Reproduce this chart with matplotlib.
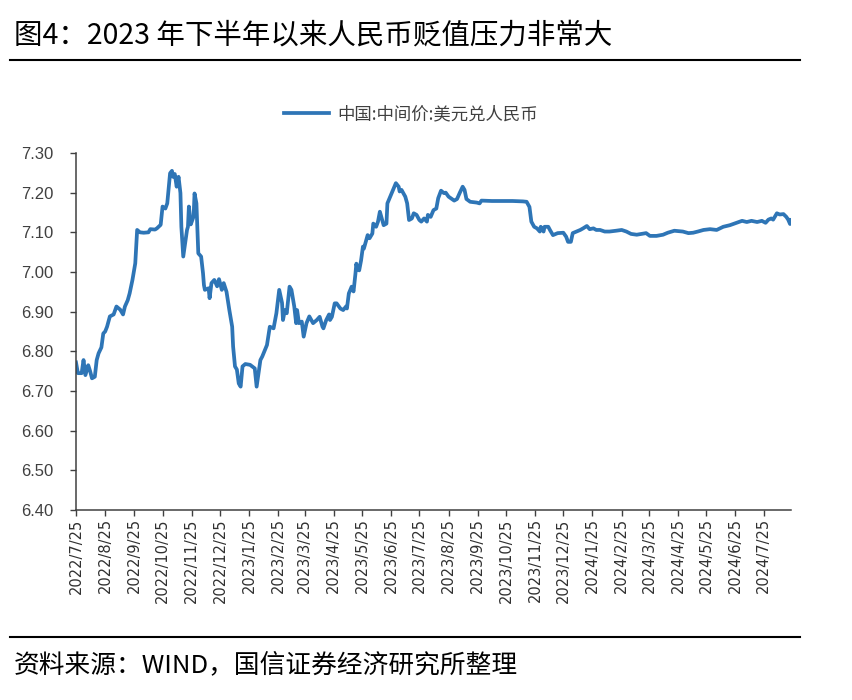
import matplotlib
matplotlib.use("Agg")
import matplotlib.pyplot as plt
from matplotlib.lines import Line2D
import pandas as pd

# ---- data ----
dates = [
    "2022-07-25", "2022-07-27", "2022-07-31", "2022-08-02", "2022-08-04", "2022-08-07",
    "2022-08-09", "2022-08-11", "2022-08-14", "2022-08-16", "2022-08-18", "2022-08-21",
    "2022-08-23", "2022-08-25", "2022-08-27", "2022-08-30", "2022-09-03", "2022-09-06",
    "2022-09-10", "2022-09-13", "2022-09-15", "2022-09-18", "2022-09-20", "2022-09-23",
    "2022-09-26", "2022-09-28", "2022-10-01", "2022-10-05", "2022-10-10", "2022-10-12",
    "2022-10-17", "2022-10-19", "2022-10-23", "2022-10-25", "2022-10-28", "2022-10-30",
    "2022-11-02", "2022-11-04", "2022-11-05", "2022-11-07", "2022-11-09", "2022-11-11",
    "2022-11-13", "2022-11-14", "2022-11-16", "2022-11-18", "2022-11-20", "2022-11-21",
    "2022-11-22", "2022-11-24", "2022-11-27", "2022-11-28", "2022-11-30", "2022-12-02",
    "2022-12-05", "2022-12-07", "2022-12-08", "2022-12-09", "2022-12-13", "2022-12-14",
    "2022-12-16", "2022-12-19", "2022-12-22", "2022-12-24", "2022-12-27", "2022-12-29",
    "2023-01-01", "2023-01-04", "2023-01-07", "2023-01-08", "2023-01-10", "2023-01-12",
    "2023-01-14", "2023-01-16", "2023-01-18", "2023-01-21", "2023-01-26", "2023-01-31",
    "2023-02-02", "2023-02-04", "2023-02-06", "2023-02-08", "2023-02-11", "2023-02-13",
    "2023-02-16", "2023-02-20", "2023-02-23", "2023-02-26", "2023-03-01", "2023-03-02",
    "2023-03-04", "2023-03-06", "2023-03-09", "2023-03-11", "2023-03-14", "2023-03-16",
    "2023-03-17", "2023-03-19", "2023-03-22", "2023-03-24", "2023-03-27", "2023-03-30",
    "2023-04-03", "2023-04-07", "2023-04-10", "2023-04-13", "2023-04-14", "2023-04-17",
    "2023-04-20", "2023-04-21", "2023-04-23", "2023-04-26", "2023-04-28", "2023-05-02",
    "2023-05-05", "2023-05-08", "2023-05-09", "2023-05-11", "2023-05-14", "2023-05-16",
    "2023-05-18", "2023-05-19", "2023-05-20", "2023-05-22", "2023-05-24", "2023-05-26",
    "2023-05-27", "2023-05-29", "2023-05-31", "2023-06-02", "2023-06-05", "2023-06-06",
    "2023-06-09", "2023-06-11", "2023-06-13", "2023-06-15", "2023-06-17", "2023-06-20",
    "2023-06-21", "2023-06-24", "2023-06-27", "2023-06-30", "2023-07-03", "2023-07-04",
    "2023-07-06", "2023-07-10", "2023-07-12", "2023-07-14", "2023-07-17", "2023-07-19",
    "2023-07-22", "2023-07-25", "2023-07-27", "2023-07-30", "2023-08-02", "2023-08-03",
    "2023-08-06", "2023-08-09", "2023-08-12", "2023-08-14", "2023-08-17", "2023-08-20",
    "2023-08-22", "2023-08-25", "2023-08-28", "2023-08-31", "2023-09-03", "2023-09-06",
    "2023-09-09", "2023-09-11", "2023-09-13", "2023-09-17", "2023-09-24", "2023-09-27",
    "2023-09-29", "2023-10-10", "2023-10-22", "2023-11-01", "2023-11-12", "2023-11-16",
    "2023-11-19", "2023-11-21", "2023-11-24", "2023-11-27", "2023-11-30", "2023-12-01",
    "2023-12-04", "2023-12-05", "2023-12-09", "2023-12-11", "2023-12-14", "2023-12-19",
    "2023-12-25", "2023-12-28", "2023-12-30", "2024-01-02", "2024-01-04", "2024-01-08",
    "2024-01-12", "2024-01-15", "2024-01-19", "2024-01-22", "2024-01-26", "2024-01-29",
    "2024-02-02", "2024-02-07", "2024-02-12", "2024-02-19", "2024-02-25", "2024-03-01",
    "2024-03-06", "2024-03-12", "2024-03-17", "2024-03-22", "2024-03-26", "2024-04-02",
    "2024-04-09", "2024-04-14", "2024-04-21", "2024-04-30", "2024-05-06", "2024-05-11",
    "2024-05-16", "2024-05-22", "2024-05-29", "2024-06-05", "2024-06-12", "2024-06-19",
    "2024-06-26", "2024-07-02", "2024-07-07", "2024-07-12", "2024-07-18", "2024-07-23",
    "2024-07-27", "2024-07-30", "2024-08-02", "2024-08-04", "2024-08-08", "2024-08-11",
    "2024-08-15", "2024-08-18", "2024-08-20", "2024-08-22", "2024-08-23",
]
usdcny_mid = [
    6.772, 6.745, 6.745, 6.778, 6.740, 6.765,
    6.750, 6.732, 6.736, 6.778, 6.795, 6.810,
    6.845, 6.850, 6.862, 6.888, 6.893, 6.913,
    6.905, 6.893, 6.913, 6.929, 6.946, 6.980,
    7.022, 7.106, 7.100, 7.099, 7.100, 7.108,
    7.107, 7.110, 7.119, 7.165, 7.160, 7.173,
    7.249, 7.255, 7.240, 7.247, 7.215, 7.240,
    7.199, 7.114, 7.039, 7.072, 7.106, 7.114,
    7.165, 7.120, 7.140, 7.198, 7.173, 7.047,
    7.039, 6.997, 6.967, 6.955, 6.959, 6.934,
    6.972, 6.980, 6.964, 6.982, 6.955, 6.972,
    6.950, 6.904, 6.862, 6.812, 6.762, 6.754,
    6.719, 6.711, 6.762, 6.768, 6.766, 6.757,
    6.711, 6.745, 6.778, 6.787, 6.804, 6.816,
    6.862, 6.858, 6.896, 6.955, 6.922, 6.879,
    6.904, 6.896, 6.963, 6.955, 6.913, 6.871,
    6.904, 6.871, 6.875, 6.837, 6.871, 6.888,
    6.871, 6.879, 6.887, 6.862, 6.858, 6.879,
    6.893, 6.879, 6.887, 6.921, 6.921, 6.908,
    6.904, 6.913, 6.908, 6.946, 6.963, 6.951,
    6.995, 7.021, 7.008, 7.004, 7.029, 7.064,
    7.059, 7.076, 7.093, 7.085, 7.097, 7.122,
    7.114, 7.127, 7.152, 7.135, 7.118, 7.122,
    7.173, 7.190, 7.207, 7.224, 7.215, 7.203,
    7.207, 7.190, 7.173, 7.131, 7.135, 7.148,
    7.144, 7.131, 7.127, 7.135, 7.127, 7.144,
    7.139, 7.156, 7.160, 7.186, 7.205, 7.199,
    7.200, 7.190, 7.185, 7.180, 7.184, 7.200,
    7.215, 7.207, 7.184, 7.177, 7.175, 7.173,
    7.180, 7.179, 7.179, 7.179, 7.178, 7.177,
    7.164, 7.127, 7.114, 7.110, 7.102, 7.114,
    7.102, 7.114, 7.114, 7.105, 7.093, 7.098,
    7.099, 7.089, 7.076, 7.076, 7.098, 7.102,
    7.106, 7.110, 7.116, 7.108, 7.110, 7.106,
    7.106, 7.102, 7.102, 7.104, 7.106, 7.102,
    7.096, 7.094, 7.096, 7.098, 7.091, 7.091,
    7.094, 7.099, 7.104, 7.102, 7.098, 7.099,
    7.102, 7.106, 7.108, 7.106, 7.114, 7.118,
    7.124, 7.129, 7.126, 7.129, 7.126, 7.129,
    7.124, 7.132, 7.135, 7.132, 7.148, 7.145,
    7.146, 7.139, 7.132, 7.121, 7.131,
]
series_name = "中国:中间价:美元兑人民币"
tick_dates = pd.date_range("2022-07-01", "2024-07-01", freq="MS") + pd.Timedelta(days=24)
y_ticks = [6.40, 6.50, 6.60, 6.70, 6.80, 6.90, 7.00, 7.10, 7.20, 7.30]

title_text = "图4：2023 年下半年以来人民币贬值压力非常大"
source_text = "资料来源：WIND，国信证券经济研究所整理"

# ---- style ----
CJK = ["Noto Sans CJK SC", "DejaVu Sans"]
LINE_COLOR = "#2E75B6"
TEXT_COLOR = "#404040"

fig = plt.figure(figsize=(8.53, 7.00), dpi=100)
fig.patch.set_facecolor("white")

ax = fig.add_axes([76 / 853, 1 - 510 / 700, (791 - 76) / 853, (510 - 153) / 700])
x = pd.to_datetime(dates)
ax.plot(x, usdcny_mid, color=LINE_COLOR, lw=2.7, solid_joinstyle="round")

ax.set_xlim(pd.Timestamp("2022-07-25"), pd.Timestamp("2024-08-23"))
ax.set_ylim(6.40, 7.30)
ax.set_yticks(y_ticks)
ax.set_yticklabels([f"{v:.2f}" for v in y_ticks])
ax.set_xticks(tick_dates)
ax.set_xticklabels([f"{d.year}/{d.month}/{d.day}" for d in tick_dates],
                   rotation=90, fontsize=10.5, family="DejaVu Sans", color="#303030")
for lab in ax.get_yticklabels():
    lab.set_fontfamily("Liberation Sans")
    lab.set_fontsize(12)
    lab.set_color(TEXT_COLOR)

for s in ["top", "right"]:
    ax.spines[s].set_visible(False)
for s in ["left", "bottom"]:
    ax.spines[s].set_color("#404040")
    ax.spines[s].set_linewidth(1.1)
ax.tick_params(axis="both", direction="out", length=4, width=1, color="#404040")
ax.tick_params(axis="y", pad=12)
ax.tick_params(axis="x", pad=2)

# legend
handle = Line2D([0], [0], color=LINE_COLOR, lw=2.7)
leg = fig.legend([handle], [series_name], loc="center", bbox_to_anchor=(411 / 853, 1 - 114 / 700),
                 frameon=False, handlelength=2.6, handletextpad=0.5,
                 prop={"family": CJK, "size": 12.5})
for t in leg.get_texts():
    t.set_color(TEXT_COLOR)

# title, rules, source
fig.text(14 / 853, 1 - 36 / 700, title_text, family=CJK, fontsize=20.5,
         color="black", ha="left", va="center")
fig.add_artist(Line2D([10 / 853, 800 / 853], [1 - 59.5 / 700] * 2, color="black", lw=1.5))
fig.add_artist(Line2D([10 / 853, 800 / 853], [1 - 637 / 700] * 2, color="black", lw=1.5))
fig.text(14 / 853, 1 - 665 / 700, source_text, family=CJK, fontsize=18.5,
         color="black", ha="left", va="center")

fig.savefig("out.png", dpi=100, facecolor="white")
